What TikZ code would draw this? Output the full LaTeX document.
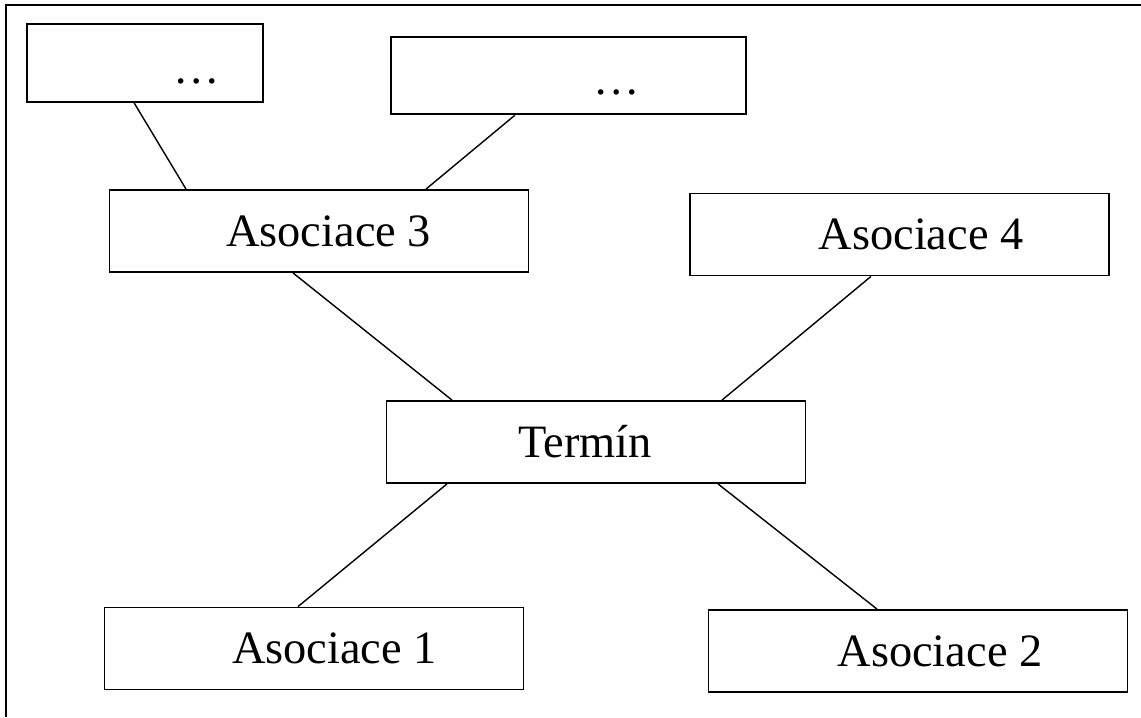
\documentclass[tikz,border=0pt]{standalone}
\usepackage{fontspec}
\setmainfont{Liberation Serif}
\begin{document}
\begin{tikzpicture}[
	box/.style={draw, line width=1.3pt, rectangle, inner sep=0pt,
		minimum width=10.475cm, minimum height=2.05cm,
		font=\fontsize{33}{40}\selectfont},
	dotbox/.style={draw, line width=1.3pt, rectangle, inner sep=0pt,
		minimum height=1.94cm},
	dots/.style={inner sep=0pt, font=\fontsize{33}{40}\selectfont},
	spoj/.style={line width=1pt}
	]
	
	\useasboundingbox (0,0) rectangle (28.525,17.925);
	
	% 1. Ram (jen horni a leva hrana)
	\draw[line width=1.4pt] (0.15,0) -- (0.15,17.8) -- (28.525,17.8);
	
	% 2. Horni ramecky s teckami
	\node[dotbox, minimum width=5.9cm] (h1) at (3.625,16.35) {};
	\node[dotbox, minimum width=8.875cm] (h2) at (14.2125,16.0375) {};
	\node[dots] (d1) at ([xshift=1.3cm, yshift=-0.45cm]h1.center) {…};
	\node[dots] (d2) at ([xshift=1.21cm, yshift=-0.43cm]h2.center) {…};
	
	% 3. Asociace a termin
	\node[box] (a3) at (7.975,12.15) {\hspace*{0.48cm}Asociace 3};
	\node[box] (a4) at (22.4875,12.0625) {\hspace*{1.08cm}Asociace 4};
	\node[box] (t) at (14.9,6.875) {Termín\hspace*{0.55cm}};
	\node[box] (a1) at (7.85,1.7125) {\hspace*{1.02cm}Asociace 1};
	\node[box] (a2) at (22.95,1.65) {\hspace*{1.1cm}Asociace 2};
	
	% 4. Spojnice
	\draw[spoj] ([xshift=-0.275cm]h1.south) -- ([xshift=-3.325cm]a3.north);
	\draw[spoj] ([xshift=-1.34cm]h2.south) -- ([xshift=2.675cm]a3.north);
	\draw[spoj] ([xshift=-0.65cm]a3.south) -- ([xshift=-3.6cm]t.north);
	\draw[spoj] ([xshift=-0.7125cm]a4.south) -- ([xshift=3.15cm]t.north);
	\draw[spoj] ([xshift=-3.725cm]t.south) -- ([xshift=-0.4cm]a1.north);
	\draw[spoj] ([xshift=3.05cm]t.south) -- ([xshift=-1.025cm]a2.north);
	
\end{tikzpicture}
\end{document}
